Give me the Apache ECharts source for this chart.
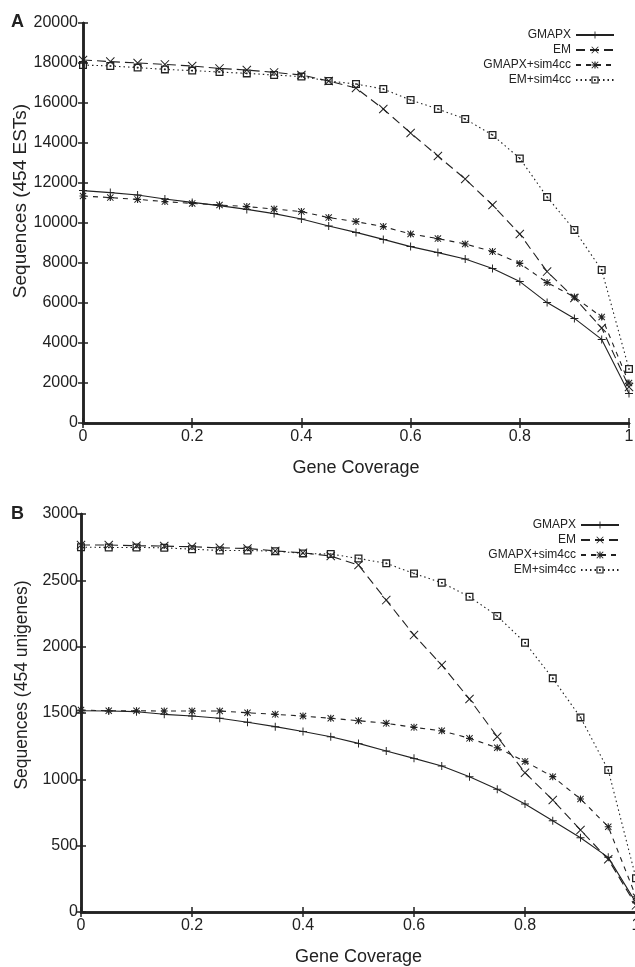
<!DOCTYPE html>
<html>
<head>
<meta charset="utf-8">
<script src="https://cdn.jsdelivr.net/npm/echarts@6/dist/echarts.min.js"></script>
<style>
  html, body { margin: 0; padding: 0; background: #fff; }
  #main { width: 635px; height: 967px; }
</style>
</head>
<body>
<div id="main"></div>
<script>
// gene coverage (x)
var coverage = [0, 0.05, 0.1, 0.15, 0.2, 0.25, 0.3, 0.35, 0.4, 0.45, 0.5,
                0.55, 0.6, 0.65, 0.7, 0.75, 0.8, 0.85, 0.9, 0.95, 1];
var xTicks = ['0', '0.2', '0.4', '0.6', '0.8', '1'];
var seriesNames = ['GMAPX', 'EM', 'GMAPX+sim4cc', 'EM+sim4cc'];

// panel A : 454 ESTs
var gmapxA    = [11620, 11520, 11400, 11200, 11030, 10870, 10680, 10470, 10200, 9850, 9530,
                 9180, 8820, 8520, 8200, 7730, 7070, 6020, 5230, 4180, 1480];
var emA       = [18150, 18070, 18000, 17930, 17850, 17730, 17650, 17530, 17400, 17100, 16750,
                 15700, 14500, 13350, 12200, 10900, 9450, 7570, 6250, 4750, 1800];
var gmapxSimA = [11350, 11270, 11180, 11070, 10980, 10900, 10820, 10700, 10570, 10270, 10070,
                 9820, 9450, 9220, 8950, 8570, 7980, 7020, 6300, 5300, 2000];
var emSimA    = [17900, 17850, 17770, 17680, 17620, 17550, 17480, 17400, 17320, 17100, 16950,
                 16700, 16150, 15700, 15200, 14400, 13230, 11300, 9650, 7650, 2700];

// panel B : 454 unigenes
var gmapxB    = [1517, 1515, 1510, 1490, 1477, 1460, 1430, 1397, 1360, 1321, 1271,
                 1213, 1158, 1100, 1020, 925, 814, 688, 560, 412, 70];
var emB       = [2766, 2766, 2761, 2758, 2753, 2745, 2740, 2722, 2707, 2683, 2615,
                 2351, 2087, 1861, 1605, 1321, 1050, 844, 618, 397, 50];
var gmapxSimB = [1522, 1517, 1517, 1515, 1515, 1515, 1502, 1490, 1477, 1460, 1442,
                 1422, 1392, 1366, 1309, 1238, 1135, 1020, 852, 643, 115];
var emSimB    = [2750, 2748, 2748, 2745, 2735, 2725, 2725, 2720, 2703, 2698, 2665,
                 2628, 2552, 2482, 2376, 2231, 2030, 1761, 1467, 1070, 254];

var INK = '#222';
var FONT = '"Liberation Sans", Arial, sans-serif';

// marker shapes
var plusPath = 'path://M4.4,0 H5.6 V10 H4.4 Z M0,4.4 H10 V5.6 H0 Z';
var crossPath = 'path://M0,0.8 L0.8,0 L10,9.2 L9.2,10 Z M9.2,0 L10,0.8 L0.8,10 L0,9.2 Z';
var starPath = 'path://M4.2,0 H5.8 V10 H4.2 Z M0,4.2 H10 V5.8 H0 Z M0,1 L1,0 L10,9 L9,10 Z M9,0 L10,1 L1,10 L0,9 Z';
var boxPath = 'path://M0,0 H10 V10 H0 Z M1.6,1.6 V8.4 H8.4 V1.6 Z M4,4 H6 V6 H4 Z';

var styles = [
  { symbol: plusPath, size: 8, type: 'solid' },
  { symbol: crossPath, size: 9, type: [9, 5] },
  { symbol: starPath, size: 7, type: [5, 5] },
  { symbol: boxPath, size: 8, type: [1.5, 3] }
];

function pairs(vals) {
  return coverage.map(function (c, i) { return [c, vals[i]]; });
}

function makeSeries(vals, axisIdx) {
  return vals.map(function (v, k) {
    return {
      name: seriesNames[k],
      type: 'line',
      xAxisIndex: axisIdx,
      yAxisIndex: axisIdx,
      data: pairs(v),
      symbol: styles[k].symbol,
      symbolSize: styles[k].size,
      showAllSymbol: true,
      animation: false,
      lineStyle: { color: INK, width: 1.1, type: styles[k].type },
      itemStyle: { color: INK }
    };
  });
}

function xLabel(v) {
  var idx = Math.round(v / 0.2);
  return xTicks[idx] !== undefined ? xTicks[idx] : '';
}

function bottomX(grid) {
  return {
    type: 'value', gridIndex: grid, min: 0, max: 1, interval: 0.2,
    name: 'Gene Coverage', nameLocation: 'middle', nameGap: 36,
    nameTextStyle: { color: INK, fontSize: 18, fontFamily: FONT },
    axisLine: { lineStyle: { color: INK, width: 2.5 } },
    axisTick: { inside: true, length: 5, lineStyle: { color: INK, width: 1.5 } },
    axisLabel: { color: INK, fontSize: 16, fontFamily: FONT, margin: 6, formatter: xLabel },
    splitLine: { show: false }
  };
}
function topX(grid) {
  return {
    type: 'value', gridIndex: grid, position: 'top', min: 0, max: 1, interval: 0.2,
    axisLine: { lineStyle: { color: INK, width: 2.5 } },
    axisTick: { inside: true, length: 5, lineStyle: { color: INK, width: 1.5 } },
    axisLabel: { show: false }, splitLine: { show: false }
  };
}
function leftY(grid, max, step, margin) {
  return {
    type: 'value', gridIndex: grid, min: 0, max: max, interval: step,
    axisLine: { show: true, lineStyle: { color: INK, width: 2.5 } },
    axisTick: { show: true, inside: true, length: 5, lineStyle: { color: INK, width: 1.5 } },
    axisLabel: { color: INK, fontSize: 16, fontFamily: FONT, margin: margin,
                 formatter: function (v) { return String(v); } },
    splitLine: { show: false }
  };
}
function rightY(grid, max, step) {
  return {
    type: 'value', gridIndex: grid, position: 'right', min: 0, max: max, interval: step,
    axisLine: { show: true, lineStyle: { color: INK, width: 2.5 } },
    axisTick: { show: true, inside: true, length: 5, lineStyle: { color: INK, width: 1.5 } },
    axisLabel: { show: false }, splitLine: { show: false }
  };
}

function legendAt(top, right) {
  return {
    data: seriesNames, orient: 'vertical', align: 'right',
    top: top, right: right, itemWidth: 38, itemHeight: 9, itemGap: 3,
    textStyle: { color: INK, fontSize: 12, fontFamily: FONT },
    padding: 0
  };
}

function yName(text, x, y, size) {
  return {
    type: 'text', x: x, y: y, rotation: Math.PI / 2,
    style: { text: text, fontSize: size, fontFamily: FONT, fill: INK,
             align: 'center', verticalAlign: 'middle' }
  };
}

var chart = echarts.init(document.getElementById('main'));
chart.setOption({
  backgroundColor: '#fff',
  animation: false,
  grid: [
    { left: 83, top: 23, width: 546, height: 400, outerBoundsMode: 'none' },
    { left: 81, top: 514, width: 555, height: 398, outerBoundsMode: 'none' }
  ],
  legend: [legendAt(29, 20), legendAt(519, 15)],
  xAxis: [bottomX(0), topX(0), bottomX(1), topX(1)],
  yAxis: [
    leftY(0, 20000, 2000, 5),
    rightY(0, 20000, 2000),
    leftY(1, 3000, 500, 3),
    rightY(1, 3000, 500)
  ],
  graphic: [
    { type: 'text', left: 11, top: 13, style: { text: 'A', fontSize: 18, fontWeight: 'bold', fontFamily: FONT, fill: INK } },
    { type: 'text', left: 11, top: 505, style: { text: 'B', fontSize: 18, fontWeight: 'bold', fontFamily: FONT, fill: INK } },
    yName('Sequences (454 ESTs)', 21, 201, 19),
    yName('Sequences (454 unigenes)', 22, 685, 17.5)
  ],
  series: makeSeries([gmapxA, emA, gmapxSimA, emSimA], 0)
    .concat(makeSeries([gmapxB, emB, gmapxSimB, emSimB], 2))
});
</script>
</body>
</html>
